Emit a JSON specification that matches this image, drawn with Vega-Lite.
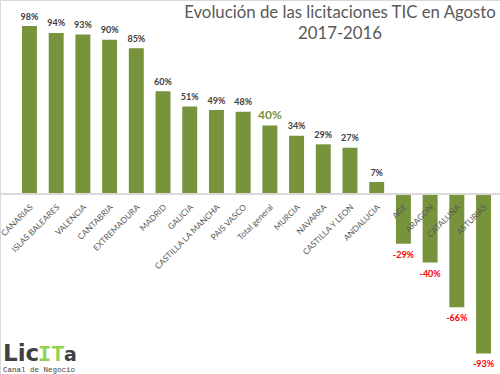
{
  "$schema": "https://vega.github.io/schema/vega-lite/v6.json",
  "width": 500,
  "height": 374,
  "padding": 0,
  "autosize": {"type": "none"},
  "background": "white",
  "config": {"view": {"stroke": "#d9d9d9", "strokeWidth": 1}},
  "title": {
    "text": ["Evolución de las licitaciones TIC en Agosto", "2017-2016"],
    "anchor": "middle",
    "frame": "group",
    "dx": 90,
    "offset": -43,
    "font": "Lato",
    "fontSize": 16.8,
    "fontWeight": "normal",
    "color": "#595959",
    "lineHeight": 21
  },
  "data": {
    "values": [
      {"region": "CANARIAS", "pct": 0.98},
      {"region": "ISLAS BALEARES", "pct": 0.94},
      {"region": "VALENCIA", "pct": 0.93},
      {"region": "CANTABRIA", "pct": 0.90},
      {"region": "EXTREMADURA", "pct": 0.85},
      {"region": "MADRID", "pct": 0.60},
      {"region": "GALICIA", "pct": 0.51},
      {"region": "CASTILLA LA MANCHA", "pct": 0.49},
      {"region": "PAIS VASCO", "pct": 0.48},
      {"region": "Total general", "pct": 0.40},
      {"region": "MURCIA", "pct": 0.34},
      {"region": "NAVARRA", "pct": 0.29},
      {"region": "CASTILLA Y LEON", "pct": 0.27},
      {"region": "ANDALUCIA", "pct": 0.07},
      {"region": "AGE", "pct": -0.29},
      {"region": "ARAGON", "pct": -0.40},
      {"region": "CATALUÑA", "pct": -0.66},
      {"region": "ASTURIAS", "pct": -0.93}
    ]
  },
  "transform": [
    {"calculate": "replace(format(datum.pct, '.0%'), '\u2212', '-')", "as": "label"}
  ],
  "layer": [
    {
      "mark": {"type": "bar", "color": "#77933C"},
      "encoding": {
        "x": {
          "field": "region", "type": "nominal", "axis": null,
          "scale": {
            "domain": ["CANARIAS", "ISLAS BALEARES", "VALENCIA", "CANTABRIA", "EXTREMADURA", "MADRID", "GALICIA", "CASTILLA LA MANCHA", "PAIS VASCO", "Total general", "MURCIA", "NAVARRA", "CASTILLA Y LEON", "ANDALUCIA", "AGE", "ARAGON", "CATALUÑA", "ASTURIAS"],
            "paddingInner": 0.44, "paddingOuter": 0.58, "align": 0.71
          }
        },
        "y": {
          "field": "pct", "type": "quantitative", "axis": null,
          "scale": {"domain": [-1.05, 1.132], "nice": false, "zero": false}
        }
      }
    },
    {
      "mark": {"type": "rule", "color": "#d9d9d9", "strokeWidth": 1},
      "encoding": {"y": {"datum": 0}}
    },
    {
      "mark": {"type": "text", "font": "Lato", "fontSize": 8.3, "color": "#595959", "angle": -45, "align": "right", "baseline": "middle", "dx": -7, "dy": 10.5},
      "encoding": {
        "x": {"field": "region", "type": "nominal"},
        "y": {"datum": 0},
        "text": {"field": "region"}
      }
    },
    {
      "transform": [{"filter": "datum.pct > 0 && datum.region != 'Total general'"}],
      "mark": {"type": "text", "font": "Lato", "fontSize": 9, "fontWeight": "bold", "color": "#404040", "baseline": "alphabetic", "dy": -6.5},
      "encoding": {
        "x": {"field": "region", "type": "nominal"},
        "y": {"field": "pct", "type": "quantitative"},
        "text": {"field": "label"}
      }
    },
    {
      "transform": [{"filter": "datum.region == 'Total general'"}],
      "mark": {"type": "text", "font": "Lato", "fontSize": 12, "fontWeight": "bold", "color": "#77933C", "baseline": "alphabetic", "dy": -6.5},
      "encoding": {
        "x": {"field": "region", "type": "nominal"},
        "y": {"field": "pct", "type": "quantitative"},
        "text": {"field": "label"}
      }
    },
    {
      "transform": [{"filter": "datum.pct < 0"}],
      "mark": {"type": "text", "font": "Lato", "fontSize": 9, "fontWeight": "bold", "color": "#FF0000", "baseline": "alphabetic", "dy": 14},
      "encoding": {
        "x": {"field": "region", "type": "nominal"},
        "y": {"field": "pct", "type": "quantitative"},
        "text": {"field": "label"}
      }
    },
    {
      "data": {"values": [{"logo": "Lic"}]},
      "mark": {"type": "text", "font": "DejaVu Sans", "fontSize": 23, "fontWeight": "bold", "color": "#404040", "align": "left", "baseline": "alphabetic", "dx": -26.5},
      "encoding": {
        "x": {"datum": "CANARIAS"},
        "y": {"datum": -0.9726},
        "text": {"field": "logo"}
      }
    },
    {
      "data": {"values": [{"logo": "IT"}]},
      "mark": {"type": "text", "font": "Liberation Mono", "fontSize": 22, "fontWeight": "bold", "color": "#92D050", "align": "left", "baseline": "alphabetic", "dx": 8.5},
      "encoding": {
        "x": {"datum": "CANARIAS"},
        "y": {"datum": -0.9726},
        "text": {"field": "logo"}
      }
    },
    {
      "data": {"values": [{"logo": "a"}]},
      "mark": {"type": "text", "font": "DejaVu Sans", "fontSize": 19, "fontWeight": "bold", "color": "#404040", "align": "left", "baseline": "alphabetic", "dx": 34.5},
      "encoding": {
        "x": {"datum": "CANARIAS"},
        "y": {"datum": -0.9726},
        "text": {"field": "logo"}
      }
    },
    {
      "data": {"values": [{"logo": "Canal de Negocio"}]},
      "mark": {"type": "text", "font": "Liberation Mono", "fontSize": 7.5, "color": "#404040", "align": "left", "baseline": "alphabetic", "dx": -26.5},
      "encoding": {
        "x": {"datum": "CANARIAS"},
        "y": {"datum": -1.038},
        "text": {"field": "logo"}
      }
    }
  ]
}
